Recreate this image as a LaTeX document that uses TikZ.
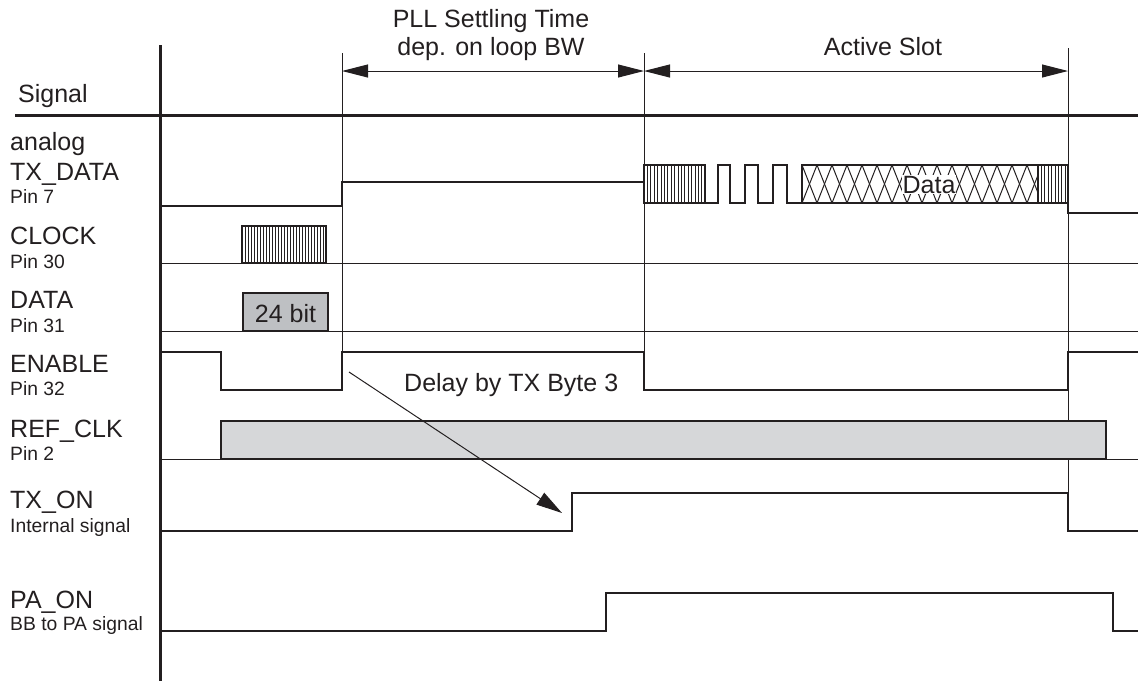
\documentclass[tikz,border=0pt]{standalone}
\usepackage{fontspec}
\setmainfont{Liberation Sans}
\usetikzlibrary{arrows.meta}
\definecolor{ink}{HTML}{231F20}
\definecolor{boxgray}{HTML}{BEC0C3}
\definecolor{refgray}{HTML}{D6D7D9}
\begin{document}
\begin{tikzpicture}[x=1pt,y=-1pt,
  axisline/.style={line width=3pt, draw=ink},
  sig/.style={line width=2pt, draw=ink, line join=miter},
  refline/.style={line width=1pt, draw=ink},
  hatch/.style={line width=1pt, draw=ink},
  lab/.style={anchor=base west, inner sep=0pt, text=ink, font=\fontsize{25}{29}\selectfont},
  sublab/.style={anchor=base west, inner sep=0pt, text=ink, font=\fontsize{19.3}{23}\selectfont},
  toplab/.style={anchor=base, inner sep=0pt, text=ink, font=\fontsize{25}{29}\selectfont},
  dimarrow/.style={refline, {Triangle[length=26pt,width=13pt]}-{Triangle[length=26pt,width=13pt]}},
  delayarrow/.style={refline, -{Triangle[length=26pt,width=14pt]}}
]
\useasboundingbox (0,0) rectangle (1138,681);

% time markers
\draw[refline] (342,53) -- (342,352);
\draw[refline] (644,53) -- (644,352);
\draw[refline] (1068,48) -- (1068,493);

% reference lines
\draw[refline] (160,263) -- (1138,263);
\draw[refline] (160,331) -- (1138,331);
\draw[refline] (160,459) -- (1138,459);

% axes
\draw[axisline] (160,45) -- (160,681);
\draw[axisline] (15,115) -- (1138,115);

% dimension arrows
\coordinate (pllA) at (342,71);
\coordinate (pllB) at (644,71);
\coordinate (slotA) at (644,71);
\coordinate (slotB) at (1068,71);
\draw[dimarrow] (pllA) -- (pllB);
\draw[dimarrow] (slotA) -- (slotB);
\node[toplab] (pll1) at (491,27) {PLL Settling Time};
\node[toplab] (pll2) at (491,55) {dep. on loop BW};
\node[toplab] (slot) at (883,55) {Active Slot};

% signal labels
\node[lab] (sig) at (18,102) {Signal};
\node[lab] (l1) at (10,150) {analog};
\node[lab] (l2) at (10,180) {TX\_DATA};
\node[sublab] (l3) at (10,203) {Pin 7};
\node[lab] (l4) at (10,244) {CLOCK};
\node[sublab] (l5) at (10,268) {Pin 30};
\node[lab] (l6) at (10,308) {DATA};
\node[sublab] (l7) at (10,332) {Pin 31};
\node[lab] (l8) at (10,372) {ENABLE};
\node[sublab] (l9) at (10,395) {Pin 32};
\node[lab] (l10) at (10,437) {REF\_CLK};
\node[sublab] (l11) at (10,460) {Pin 2};
\node[lab] (l12) at (10,508) {TX\_ON};
\node[sublab] (l13) at (10,532) {Internal signal};
\node[lab] (l14) at (10,608) {PA\_ON};
\node[sublab] (l15) at (10,630) {BB to PA signal};

% TX_DATA
\draw[sig] (160,206) -- (342,206) -- (342,182) -- (644,182);
\filldraw[sig, fill=white] (644,165) rectangle (705,203);
\foreach \x in {647.4,650.8,...,703} \draw[hatch] (\x,165) -- (\x,203);
\draw[sig] (705,203) -- (718,203) -- (718,165) -- (730,165) -- (730,203)
  -- (745,203) -- (745,165) -- (758,165) -- (758,203)
  -- (773,203) -- (773,165) -- (787,165) -- (787,203) -- (802,203);
\begin{scope}
  \clip (802,165) rectangle (1038,203);
  \foreach \x in {787,802,...,1040} {
    \draw[hatch] (\x,165) -- (\x+15,203);
    \draw[hatch] (\x+15,165) -- (\x,203);
  }
\end{scope}
\draw[sig] (802,165) rectangle (1038,203);
\node[toplab, fill=white, inner sep=1pt] (data) at (929,193) {Data};
\filldraw[sig, fill=white] (1038,165) rectangle (1068,203);
\foreach \x in {1041.4,1044.8,...,1066} \draw[hatch] (\x,165) -- (\x,203);
\draw[sig] (1068,203) -- (1068,213) -- (1138,213);

% CLOCK
\filldraw[sig, fill=white] (242,226) rectangle (326,263);
\foreach \x in {245,248,...,324} \draw[hatch] (\x,226) -- (\x,263);

% DATA
\draw[sig, fill=boxgray] (243,293) rectangle (328,331);
\node[toplab] (bits) at (285.5,322) {24 bit};

% ENABLE
\draw[sig] (160,352) -- (221,352) -- (221,390) -- (342,390) -- (342,352)
  -- (644,352) -- (644,390) -- (1068,390) -- (1068,352) -- (1138,352);
\node[lab] (delay) at (404,391) {Delay by TX Byte 3};

% REF_CLK
\draw[sig, fill=refgray] (221,421) rectangle (1106,459);

% TX_ON
\draw[sig] (160,531) -- (572,531) -- (572,493) -- (1068,493) -- (1068,531) -- (1138,531);

% PA_ON
\draw[sig] (160,631) -- (606,631) -- (606,593) -- (1113,593) -- (1113,631) -- (1138,631);

% delay arrow
\coordinate (dS) at (349,372);
\coordinate (dE) at (562,513);
\draw[delayarrow] (dS) -- (dE);
\end{tikzpicture}
\end{document}
